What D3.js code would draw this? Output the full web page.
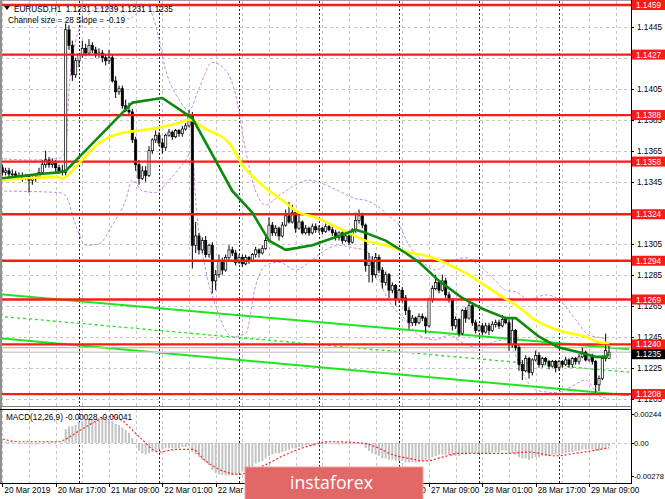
<!DOCTYPE html>
<html><head><meta charset="utf-8">
<script src="https://cdn.jsdelivr.net/npm/d3@7"></script>
<style>html,body{margin:0;padding:0;background:#fff;overflow:hidden}svg{display:block}</style>
</head><body>
<svg id="c" width="665" height="499"></svg>
<script>
// ---------------- DATA ----------------
const symbolTitle = "EURUSD,H1  1.1231 1.1239 1.1231 1.1235";
const channelTitle = "Channel size = 28 Slope = -0.19";
const macdTitle = "MACD(12,26,9) -0.00028 -0.00041";

const opens = [
1.1352,1.1354,1.1351,1.1352,1.1350,1.1350,1.1349,1.1349,1.1347,1.1349,
1.1346,1.1347,1.1348,1.1351,1.1356,1.1359,1.1356,1.1357,1.1354,1.1352,
1.1351,1.1443,1.1433,1.1414,1.1423,1.1427,1.1431,1.1428,1.1433,1.1430,
1.1427,1.1428,1.1425,1.1423,1.1425,1.1410,1.1403,1.1405,1.1394,1.1391,
1.1390,1.1372,1.1356,1.1347,1.1352,1.1349,1.1365,1.1372,1.1375,1.1370,
1.1367,1.1375,1.1377,1.1374,1.1378,1.1376,1.1379,1.1381,1.1388,1.1304,
1.1310,1.1301,1.1307,1.1298,1.1304,1.1281,1.1285,1.1294,1.1288,1.1296,
1.1301,1.1299,1.1293,1.1296,1.1292,1.1296,1.1294,1.1298,1.1301,1.1299,
1.1302,1.1307,1.1317,1.1312,1.1315,1.1310,1.1317,1.1323,1.1319,1.1325,
1.1315,1.1319,1.1312,1.1315,1.1312,1.1316,1.1314,1.1315,1.1313,1.1316,
1.1314,1.1312,1.1309,1.1312,1.1307,1.1310,1.1306,1.1314,1.1320,1.1323,
1.1317,1.1291,1.1294,1.1285,1.1296,1.1288,1.1280,1.1285,1.1275,1.1278,
1.1269,1.1275,1.1270,1.1262,1.1254,1.1257,1.1254,1.1258,1.1257,1.1252,
1.1269,1.1276,1.1280,1.1275,1.1281,1.1272,1.1269,1.1252,1.1256,1.1247,
1.1262,1.1257,1.1265,1.1254,1.1249,1.1252,1.1248,1.1252,1.1249,1.1253,
1.1254,1.1252,1.1256,1.1254,1.1240,1.1249,1.1238,1.1227,1.1223,1.1231,
1.1222,1.1230,1.1233,1.1227,1.1231,1.1229,1.1226,1.1229,1.1225,1.1229,
1.1227,1.1230,1.1227,1.1231,1.1229,1.1232,1.1235,1.1230,1.1233,1.1229,
1.1214,1.1218,1.1231,1.1231];
const highs = [
1.1356,1.1356,1.1354,1.1354,1.1353,1.1352,1.1351,1.1351,1.1350,1.1350,
1.1349,1.1350,1.1354,1.1359,1.1365,1.1361,1.1360,1.1359,1.1356,1.1356,
1.1447,1.1446,1.1436,1.1425,1.1428,1.1436,1.1434,1.1437,1.1435,1.1432,
1.1431,1.1430,1.1427,1.1430,1.1427,1.1413,1.1407,1.1407,1.1398,1.1396,
1.1392,1.1374,1.1359,1.1355,1.1355,1.1368,1.1373,1.1378,1.1377,1.1373,
1.1376,1.1379,1.1378,1.1379,1.1379,1.1381,1.1383,1.1391,1.1390,1.1319,
1.1312,1.1309,1.1310,1.1305,1.1306,1.1288,1.1298,1.1296,1.1298,1.1304,
1.1303,1.1301,1.1298,1.1298,1.1298,1.1297,1.1299,1.1303,1.1302,1.1304,
1.1310,1.1322,1.1319,1.1317,1.1316,1.1319,1.1327,1.1332,1.1330,1.1327,
1.1325,1.1320,1.1317,1.1316,1.1318,1.1318,1.1317,1.1316,1.1318,1.1317,
1.1316,1.1314,1.1313,1.1313,1.1311,1.1311,1.1315,1.1325,1.1327,1.1325,
1.1318,1.1299,1.1297,1.1299,1.1298,1.1290,1.1287,1.1286,1.1280,1.1279,
1.1276,1.1277,1.1272,1.1264,1.1259,1.1258,1.1260,1.1260,1.1258,1.1270,
1.1278,1.1285,1.1281,1.1285,1.1283,1.1274,1.1270,1.1258,1.1257,1.1263,
1.1264,1.1267,1.1267,1.1256,1.1253,1.1254,1.1254,1.1254,1.1255,1.1256,
1.1256,1.1259,1.1258,1.1256,1.1257,1.1250,1.1240,1.1230,1.1233,1.1232,
1.1231,1.1236,1.1235,1.1232,1.1232,1.1230,1.1230,1.1230,1.1230,1.1230,
1.1232,1.1231,1.1232,1.1232,1.1234,1.1238,1.1236,1.1234,1.1234,1.1230,
1.1220,1.1233,1.1247,1.1239];
const lows = [
1.1349,1.1349,1.1349,1.1347,1.1348,1.1347,1.1346,1.1345,1.1346,1.1338,
1.1343,1.1345,1.1347,1.1350,1.1354,1.1354,1.1354,1.1351,1.1350,1.1349,
1.1349,1.1430,1.1410,1.1412,1.1419,1.1425,1.1426,1.1427,1.1428,1.1425,
1.1425,1.1422,1.1420,1.1421,1.1409,1.1399,1.1401,1.1392,1.1390,1.1388,
1.1370,1.1352,1.1343,1.1346,1.1345,1.1348,1.1363,1.1370,1.1368,1.1363,
1.1365,1.1374,1.1372,1.1373,1.1374,1.1374,1.1378,1.1380,1.1289,1.1299,
1.1298,1.1299,1.1296,1.1296,1.1273,1.1275,1.1283,1.1285,1.1287,1.1294,
1.1297,1.1291,1.1292,1.1290,1.1291,1.1292,1.1293,1.1296,1.1296,1.1298,
1.1301,1.1306,1.1310,1.1310,1.1307,1.1309,1.1316,1.1318,1.1318,1.1312,
1.1314,1.1311,1.1311,1.1310,1.1311,1.1312,1.1312,1.1311,1.1312,1.1313,
1.1310,1.1307,1.1307,1.1305,1.1306,1.1304,1.1305,1.1312,1.1318,1.1315,
1.1287,1.1280,1.1280,1.1283,1.1286,1.1276,1.1278,1.1270,1.1273,1.1265,
1.1267,1.1267,1.1259,1.1250,1.1252,1.1252,1.1253,1.1255,1.1247,1.1251,
1.1267,1.1275,1.1273,1.1274,1.1270,1.1267,1.1249,1.1250,1.1245,1.1246,
1.1254,1.1256,1.1252,1.1247,1.1248,1.1246,1.1247,1.1246,1.1248,1.1251,
1.1250,1.1251,1.1253,1.1236,1.1238,1.1236,1.1223,1.1217,1.1222,1.1218,
1.1220,1.1229,1.1225,1.1225,1.1227,1.1224,1.1225,1.1222,1.1223,1.1225,
1.1226,1.1225,1.1225,1.1227,1.1227,1.1231,1.1229,1.1229,1.1227,1.1209,
1.1210,1.1217,1.1229,1.1231];
const closes = [
1.1354,1.1351,1.1352,1.1350,1.1350,1.1349,1.1349,1.1347,1.1349,1.1346,
1.1347,1.1348,1.1351,1.1356,1.1359,1.1356,1.1357,1.1354,1.1352,1.1351,
1.1443,1.1433,1.1414,1.1423,1.1427,1.1431,1.1428,1.1433,1.1430,1.1427,
1.1428,1.1425,1.1423,1.1425,1.1410,1.1403,1.1405,1.1394,1.1391,1.1390,
1.1372,1.1356,1.1347,1.1352,1.1349,1.1365,1.1372,1.1375,1.1370,1.1367,
1.1375,1.1377,1.1374,1.1378,1.1376,1.1379,1.1381,1.1388,1.1304,1.1310,
1.1301,1.1307,1.1298,1.1304,1.1281,1.1285,1.1294,1.1288,1.1296,1.1301,
1.1299,1.1293,1.1296,1.1292,1.1296,1.1294,1.1298,1.1301,1.1299,1.1302,
1.1307,1.1317,1.1312,1.1315,1.1310,1.1317,1.1323,1.1319,1.1325,1.1315,
1.1319,1.1312,1.1315,1.1312,1.1316,1.1314,1.1315,1.1313,1.1316,1.1314,
1.1312,1.1309,1.1312,1.1307,1.1310,1.1306,1.1314,1.1320,1.1323,1.1317,
1.1291,1.1294,1.1285,1.1296,1.1288,1.1280,1.1285,1.1275,1.1278,1.1269,
1.1275,1.1270,1.1262,1.1254,1.1257,1.1254,1.1258,1.1257,1.1252,1.1269,
1.1276,1.1280,1.1275,1.1281,1.1272,1.1269,1.1252,1.1256,1.1247,1.1262,
1.1257,1.1265,1.1254,1.1249,1.1252,1.1248,1.1252,1.1249,1.1253,1.1254,
1.1252,1.1256,1.1254,1.1240,1.1249,1.1238,1.1227,1.1223,1.1231,1.1222,
1.1230,1.1233,1.1227,1.1231,1.1229,1.1226,1.1229,1.1225,1.1229,1.1227,
1.1230,1.1227,1.1231,1.1229,1.1232,1.1235,1.1230,1.1233,1.1229,1.1214,
1.1218,1.1231,1.1236,1.1235];

const macdHist = [
0.00011,0.00011,0.00011,0.00006,0.00006,0,
-0.00006,-0.00006,-0.00011,-0.00011,-0.00011,-0.00011,-0.00006,0,0.00006,0.00006,0.00006,0,0,-0.00006,
0.00121,0.00143,0.00143,0.00154,0.00176,0.00187,0.00198,0.00209,0.00209,0.00209,0.00209,0.00209,0.00198,0.00198,0.00187,0.00165,0.00154,0.00132,0.0011,0.00088,0.00044,
-0.00011,-0.00066,-0.00088,-0.00099,-0.00088,-0.00077,-0.00066,-0.00055,-0.00055,-0.00044,-0.00044,-0.00044,-0.00044,-0.00044,-0.00033,-0.00033,-0.00022,
-0.00077,-0.00099,-0.00121,-0.00143,-0.00165,-0.00187,-0.00231,-0.00258,-0.00268,-0.00275,-0.00278,-0.00278,-0.00275,-0.00268,-0.00258,-0.00242,-0.00231,-0.00209,-0.00198,-0.00176,-0.00165,-0.00154,-0.00132,-0.0011,-0.00099,-0.00088,-0.00088,-0.00077,-0.00066,-0.00055,-0.00044,-0.00044,-0.00033,-0.00033,-0.00022,-0.00022,-0.00022,-0.00011,
-0.00011,-0.00011,-0.00006,-0.00006,-0.00006,-0.00011,-0.00011,-0.00011,-0.00011,-0.00011,-0.00011,0,-0.00011,-0.00011,
-0.00044,-0.00066,-0.00088,-0.00099,-0.0011,-0.00132,-0.00132,-0.00143,-0.00143,-0.00154,-0.00154,-0.00154,-0.00165,-0.00165,-0.00165,-0.00165,-0.00165,-0.00154,-0.00154,-0.00143,-0.00121,-0.0011,-0.00099,-0.00099,-0.00099,-0.00099,-0.0011,-0.0011,-0.0011,-0.00099,-0.00099,-0.00088,-0.00088,-0.00088,-0.00088,-0.00088,-0.00088,-0.00088,-0.00077,-0.00077,-0.00077,-0.00066,-0.00066,
-0.00088,-0.00088,-0.00099,-0.00121,-0.00132,-0.00132,-0.00143,-0.00132,-0.00121,-0.00121,-0.0011,-0.0011,-0.0011,-0.00099,-0.00099,-0.00099,-0.00088,-0.00088,-0.00077,-0.00077,-0.00066,-0.00066,-0.00055,-0.00055,-0.00055,-0.00055,-0.00066,-0.00066,-0.00055,-0.00044,-0.00028];

const macdSignal = [[0,0.00044],[6,0.00011],[18,0.00011],[20,0.00033],[25,0.00121],[30,0.00198],[34,0.00228],[37,0.00190],[42,0.00055],[48,-0.00077],[53,-0.00055],[58,-0.00055],[62,-0.00154],[68,-0.00248],[72,-0.00268],[79,-0.00198],[86,-0.00099],[92,-0.00033],[95,-0.00011],[99,0.00011],[109,0],[113,-0.00033],[118,-0.00099],[123,-0.00132],[128,-0.00154],[133,-0.00121],[138,-0.00088],[145,-0.00088],[153,-0.00088],[159,-0.00077],[167,-0.0011],[173,-0.00088],[183,-0.00041]];

const maYellow = [[0,1.1346],[18,1.1348],[19,1.1347],[24,1.1357],[30,1.1370],[36,1.1376],[42,1.1378],[48,1.1380],[54,1.1383],[57,1.1385],[62,1.1379],[69,1.1370],[73,1.1356],[80,1.1341],[85,1.1333],[90,1.1325],[95,1.1322],[100,1.1317],[105,1.1312],[110,1.1307],[116,1.1304],[122,1.1300],[130,1.1296],[140,1.1286],[150,1.1272],[156,1.1264],[160,1.1257],[168,1.1249],[176,1.1245],[181,1.1241],[183,1.1241]];

const maGreen = [[0,1.1347],[12,1.1350],[18,1.1351],[20,1.1352],[40,1.1396],[46,1.1398],[49,1.1399],[58,1.1386],[70,1.1339],[76,1.1325],[81,1.1307],[86,1.1301],[94,1.1304],[98,1.1307],[102,1.1310],[107,1.1314],[110,1.1312],[116,1.1307],[122,1.1299],[126,1.1293],[132,1.1281],[139,1.1270],[145,1.1263],[152,1.1257],[155,1.1257],[162,1.1245],[168,1.1238],[174,1.1235],[179,1.1232],[182,1.1232],[183,1.1234]];

const bandUpper = [[0,1.1360],[9,1.1359],[18,1.1360],[20,1.1365],[21,1.1404],[23,1.1436],[26,1.1450],[30,1.1457],[35,1.1457],[39,1.1450],[41,1.1453],[44,1.1459],[47,1.1446],[50,1.1417],[54,1.1398],[57,1.1391],[60,1.1405],[64,1.1422],[68,1.1417],[71,1.1401],[74,1.1365],[77,1.1339],[80,1.1330],[84,1.1336],[89,1.1343],[93,1.1346],[98,1.1343],[102,1.1339],[107,1.1334],[110,1.1333],[113,1.1330],[117,1.1323],[120,1.1317],[123,1.1304],[126,1.1296],[131,1.1288],[135,1.1293],[140,1.1296],[144,1.1291],[149,1.1281],[152,1.1275],[155,1.1274],[159,1.1269],[164,1.1272],[168,1.1269],[173,1.1256],[177,1.1246],[182,1.1244]];

const bandLower = [[0,1.1339],[18,1.1338],[20,1.1336],[23,1.1317],[26,1.1304],[30,1.1305],[34,1.1317],[38,1.1333],[40,1.1346],[43,1.1339],[47,1.1338],[51,1.1346],[56,1.1359],[58,1.1365],[59,1.1333],[62,1.1288],[65,1.1265],[70,1.1245],[74,1.1247],[77,1.1278],[80,1.1291],[84,1.1293],[89,1.1288],[93,1.1293],[98,1.1301],[102,1.1304],[107,1.1302],[110,1.1301],[113,1.1288],[116,1.1272],[119,1.1262],[122,1.1256],[126,1.1246],[131,1.1243],[135,1.1246],[140,1.1240],[144,1.1238],[149,1.1242],[152,1.1243],[155,1.1233],[158,1.1218],[162,1.1210],[167,1.1209],[171,1.1212],[176,1.1217],[180,1.1207],[183,1.1205]];

const channelBars = [0, 189];
const channelUpper = [1.12724, 1.12369];
const channelMiddle = [1.12582, 1.12221];
const channelLower = [1.12440, 1.12072];

const levels = [1.1459, 1.1427, 1.1388, 1.1358, 1.1324, 1.1294, 1.1269, 1.1240, 1.1208];
const priceTicks = [1.1445,1.1425,1.1405,1.1385,1.1365,1.1345,1.1325,1.1305,1.1285,1.1265,1.1245,1.1225,1.1205];
const lastPrice = 1.1235;
const markPrice = 1.1238;
const macdTicks = [0.00244, 0, -0.00278];
const macdTickText = ["0.00244", "0.00", "-0.00278"];
const timeLabelBars = [1,17,33,49,65,81,97,113,129,145,161,177];
const timeLabels = ["20 Mar 2019","20 Mar 17:00","21 Mar 09:00","22 Mar 01:00","22 Mar 17:00","25 Mar 09:00","26 Mar 01:00","26 Mar 17:00","27 Mar 09:00","28 Mar 01:00","28 Mar 17:00","29 Mar 09:00"];
const daySeparatorBars = [24,48,72,96,120,144,168];

// ---------------- DRAW ----------------
const W = 665, H = 499;
const axisX = 631, mainT = 1, mainB = 406, macdT = 409, macdB = 483;
const font = '"Liberation Sans", Arial, sans-serif';
const logo = {x: 245, y: 467, w: 178, h: 36};
const svg = d3.select('#c');

const x = d3.scaleLinear().domain([0, 189]).range([-1, 629]);
const y = d3.scaleLinear().domain([1.1205, 1.1445]).range([398.7, 26.7]);
const my = d3.scaleLinear().domain([-0.00342, 0.00291]).range([483, 409]);

const defs = svg.append('defs');
defs.append('clipPath').attr('id','cm').append('rect').attr('x',0).attr('y',mainT).attr('width',axisX).attr('height',mainB-mainT);
defs.append('clipPath').attr('id','cd').append('rect').attr('x',0).attr('y',macdT).attr('width',axisX).attr('height',macdB-macdT);

svg.append('rect').attr('width',W).attr('height',H).attr('fill','#fff');

const gridBars = d3.range(1, 190, 8);

// ---- main panel ----
const gm = svg.append('g').attr('clip-path','url(#cm)');
gm.selectAll('line.hg').data(priceTicks).join('line')
  .attr('x1',0).attr('x2',axisX).attr('y1',d=>Math.round(y(d))+0.5).attr('y2',d=>Math.round(y(d))+0.5)
  .attr('stroke','#c6c6c6').attr('stroke-dasharray','3,3');
gm.selectAll('line.vg').data(gridBars).join('line')
  .attr('x1',d=>Math.round(x(d))+0.5).attr('x2',d=>Math.round(x(d))+0.5).attr('y1',mainT).attr('y2',mainB)
  .attr('stroke','#c6c6c6').attr('stroke-dasharray','3,3');
gm.selectAll('line.ds').data(daySeparatorBars).join('line')
  .attr('x1',d=>Math.round(x(d))+0.5).attr('x2',d=>Math.round(x(d))+0.5).attr('y1',mainT).attr('y2',mainB)
  .attr('stroke','#222').attr('stroke-dasharray','2,2');

// channel
const chan = [[channelUpper,'none',2],[channelMiddle,'3,3',1.3],[channelLower,'none',2]];
chan.forEach(([c,dash,w])=>{
  gm.append('line').attr('x1',x(channelBars[0])).attr('x2',x(channelBars[1]))
    .attr('y1',y(c[0])).attr('y2',y(c[1]))
    .attr('stroke','#1ee61e').attr('stroke-width',w).attr('stroke-dasharray',dash);
});

// bands
const bandLine = d3.line().x(d=>x(d[0])).y(d=>y(d[1])).curve(d3.curveMonotoneX);
[bandUpper, bandLower].forEach(b=>{
  gm.append('path').attr('d',bandLine(b)).attr('fill','none')
    .attr('stroke','#c58be6').attr('stroke-width',1).attr('stroke-dasharray','3,2');
});

// bid / mark lines
gm.append('line').attr('x1',0).attr('x2',axisX).attr('y1',y(markPrice)).attr('y2',y(markPrice)).attr('stroke','#f6a98c').attr('stroke-width',1.2);
gm.append('line').attr('x1',0).attr('x2',axisX).attr('y1',y(lastPrice)).attr('y2',y(lastPrice)).attr('stroke','#d0d0d0').attr('stroke-width',1.5);

// candles
const idx = d3.range(opens.length);
const bw = 2.2;
gm.selectAll('line.wick').data(idx).join('line')
  .attr('x1',i=>x(i)).attr('x2',i=>x(i)).attr('y1',i=>y(highs[i])).attr('y2',i=>y(lows[i]))
  .attr('stroke','#000').attr('stroke-width',1);
gm.selectAll('rect.body').data(idx).join('rect')
  .attr('x',i=>x(i)-bw/2).attr('width',bw)
  .attr('y',i=>y(Math.max(opens[i],closes[i])))
  .attr('height',i=>Math.max(0.8, Math.abs(y(opens[i])-y(closes[i]))))
  .attr('fill',i=>closes[i]>=opens[i]?'#ffffff':'#000000')
  .attr('stroke','#000').attr('stroke-width',0.7);

// red levels
gm.selectAll('line.lv').data(levels).join('line')
  .attr('x1',0).attr('x2',axisX).attr('y1',d=>y(d)).attr('y2',d=>y(d))
  .attr('stroke','#ff1a1a').attr('stroke-width',2.3);

// moving averages
gm.append('path').attr('d',d3.line().x(d=>x(d[0])).y(d=>y(d[1])).curve(d3.curveMonotoneX)(maYellow)).attr('fill','none')
  .attr('stroke','#ffff00').attr('stroke-width',2.6);
gm.append('path').attr('d',d3.line().x(d=>x(d[0])).y(d=>y(d[1]))(maGreen)).attr('fill','none')
  .attr('stroke','#0b8a0b').attr('stroke-width',2.6).attr('stroke-linejoin','round');

// header texts
svg.append('path').attr('d','M4,6 L10,6 L7,10 Z').attr('fill','#000');
svg.append('text').attr('x',14).attr('y',11.5).attr('font-family',font).attr('font-size',8.2).attr('fill','#000')
  .attr('xml:space','preserve').style('white-space','pre').text(symbolTitle);
svg.append('text').attr('x',8).attr('y',23).attr('font-family',font).attr('font-size',8.2).attr('fill','#000').text(channelTitle);

// ---- MACD panel ----
const gd = svg.append('g').attr('clip-path','url(#cd)');
gd.selectAll('line.vg').data(gridBars).join('line')
  .attr('x1',d=>Math.round(x(d))+0.5).attr('x2',d=>Math.round(x(d))+0.5).attr('y1',macdT).attr('y2',macdB)
  .attr('stroke','#c6c6c6').attr('stroke-dasharray','3,3');
gd.selectAll('line.ds').data(daySeparatorBars).join('line')
  .attr('x1',d=>Math.round(x(d))+0.5).attr('x2',d=>Math.round(x(d))+0.5).attr('y1',macdT).attr('y2',macdB)
  .attr('stroke','#222').attr('stroke-dasharray','2,2');
gd.append('line').attr('x1',0).attr('x2',axisX).attr('y1',Math.round(my(0))+0.5).attr('y2',Math.round(my(0))+0.5)
  .attr('stroke','#c6c6c6').attr('stroke-dasharray','3,3');
gd.selectAll('rect.h').data(macdHist.map((v,i)=>[i,v])).join('rect')
  .attr('x',d=>x(d[0])-1).attr('width',2)
  .attr('y',d=>Math.min(my(0),my(d[1]))).attr('height',d=>Math.abs(my(d[1])-my(0)))
  .attr('fill','#c3c3c3');
gd.append('path').attr('d',d3.line().x(d=>x(d[0])).y(d=>my(d[1])).curve(d3.curveMonotoneX)(macdSignal))
  .attr('fill','none').attr('stroke','#ff2020').attr('stroke-width',1.2).attr('stroke-dasharray','2,2');
svg.append('text').attr('x',6).attr('y',420).attr('font-family',font).attr('font-size',8.2).attr('fill','#000').text(macdTitle);

// ---- frames ----
svg.append('line').attr('x1',0).attr('x2',axisX).attr('y1',0.5).attr('y2',0.5).attr('stroke','#a0a0a0');
svg.append('line').attr('x1',1).attr('x2',1).attr('y1',0).attr('y2',macdB).attr('stroke','#909090').attr('stroke-width',2);
svg.append('line').attr('x1',0).attr('x2',axisX).attr('y1',mainB+0.5).attr('y2',mainB+0.5).attr('stroke','#808080');
svg.append('line').attr('x1',0).attr('x2',axisX).attr('y1',macdT+0.5).attr('y2',macdT+0.5).attr('stroke','#000');
svg.append('line').attr('x1',0).attr('x2',axisX+1).attr('y1',macdB+0.5).attr('y2',macdB+0.5).attr('stroke','#000');
svg.append('line').attr('x1',axisX+0.5).attr('x2',axisX+0.5).attr('y1',0).attr('y2',macdB).attr('stroke','#000');

// ---- right price axis ----
const ra = svg.append('g');
// tick labels entirely hidden under a level box are not drawn (as in the original, they are covered)
const visibleTicks = priceTicks.filter(t => !levels.some(l => Math.abs(y(l) - y(t)) < 4));
ra.selectAll('line.t').data(priceTicks).join('line')
  .attr('x1',axisX).attr('x2',axisX+3).attr('y1',d=>Math.round(y(d))+0.5).attr('y2',d=>Math.round(y(d))+0.5).attr('stroke','#000');
ra.selectAll('text.t').data(visibleTicks).join('text')
  .attr('x',axisX+6).attr('y',d=>y(d)+3).attr('font-family',font).attr('font-size',8.2).attr('fill','#000')
  .text(d=>d.toFixed(4));
levels.forEach(l=>{
  ra.append('rect').attr('x',axisX+1).attr('y',y(l)-5).attr('width',W-axisX-1).attr('height',10).attr('fill','#ff1a1a');
  ra.append('text').attr('x',axisX+5).attr('y',y(l)+3).attr('font-family',font).attr('font-size',8.2).attr('fill','#fff').text(l.toFixed(4));
});
ra.append('rect').attr('x',axisX+1).attr('y',y(lastPrice)-3).attr('width',W-axisX-1).attr('height',10).attr('fill','#000');
ra.append('text').attr('x',axisX+5).attr('y',y(lastPrice)+5).attr('font-family',font).attr('font-size',8.2).attr('fill','#fff').text(lastPrice.toFixed(4));

// MACD axis
macdTicks.forEach((v,k)=>{
  svg.append('line').attr('x1',axisX).attr('x2',axisX+3).attr('y1',Math.round(my(v))+0.5).attr('y2',Math.round(my(v))+0.5).attr('stroke','#000');
  svg.append('text').attr('x',axisX+3).attr('y',my(v)+3).attr('font-family',font).attr('font-size',7.6).attr('fill','#000').text(macdTickText[k]);
});

// ---- time axis ----
timeLabelBars.forEach((b,k)=>{
  const tx = x(b)+2;
  svg.append('line').attr('x1',Math.round(x(b))+0.5).attr('x2',Math.round(x(b))+0.5).attr('y1',macdB).attr('y2',macdB+4).attr('stroke','#000');
  // labels fully covered by the logo in the original are not drawn
  if (tx > logo.x && tx + 46 < logo.x + logo.w) return;
  svg.append('text').attr('x',tx).attr('y',493).attr('font-family',font).attr('font-size',8.2).attr('fill','#000').text(timeLabels[k]);
});

// ---- logo ----
svg.append('rect').attr('x',logo.x).attr('y',logo.y).attr('width',logo.w).attr('height',logo.h).attr('fill','#e26868').attr('stroke','#ef9f9f').attr('stroke-width',1);
svg.append('text').attr('x',290).attr('y',489).attr('font-family','"Open Sans", "Liberation Sans", sans-serif').attr('font-size',19)
  .attr('fill','#fff').attr('textLength',83).attr('lengthAdjust','spacingAndGlyphs').text('instaforex');
</script>
</body></html>
